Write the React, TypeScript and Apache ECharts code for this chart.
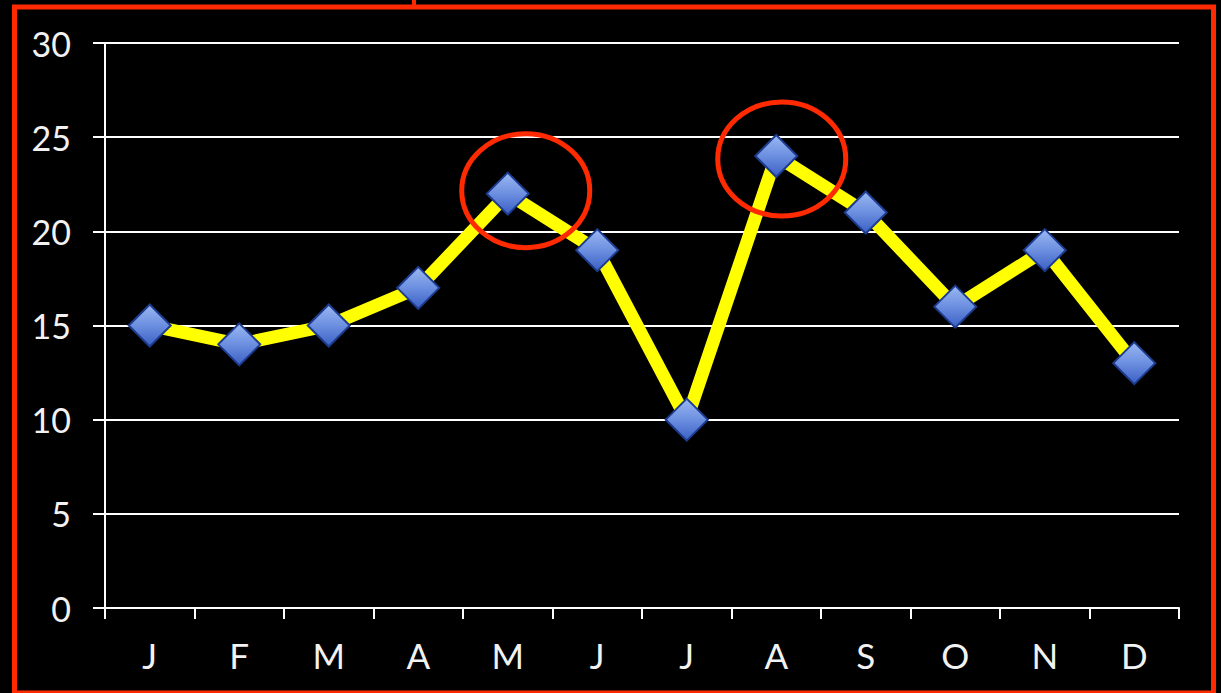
import React, { useEffect, useRef } from "react";
import * as echarts from "echarts";

const months = ["J", "F", "M", "A", "M", "J", "J", "A", "S", "O", "N", "D"];
const values = [15, 14, 15, 17, 22, 19, 10, 24, 21, 16, 19, 13];
const highlighted = [4, 7];
const highlightOffsets = [[18, -3], [5.5, 3]];

export default function App() {
  const ref = useRef<HTMLDivElement>(null);
  useEffect(() => {
    document.body.style.margin = "0";
    document.body.style.background = "#000";
    const chart = echarts.init(ref.current!, null, { renderer: "svg" });
    const option: any = {
      animation: false,
      backgroundColor: "#000",
      grid: { left: 105, right: 42, top: 43, bottom: 85 },
      xAxis: {
        type: "category",
        data: months,
        boundaryGap: true,
        axisLine: { lineStyle: { color: "#ffffff", width: 2 } },
        axisTick: { show: true, length: 11, lineStyle: { color: "#ffffff", width: 2 } },
        axisLabel: { color: "#f2f2f2", fontSize: 35, fontFamily: "Lato", margin: 29 },
        splitLine: { show: false },
      },
      yAxis: {
        type: "value",
        min: 0,
        max: 30,
        interval: 5,
        axisLine: { show: true, lineStyle: { color: "#ffffff", width: 2 } },
        axisTick: { show: true, length: 12, lineStyle: { color: "#ffffff", width: 2 } },
        axisLabel: { color: "#f2f2f2", fontSize: 34, fontFamily: "Lato", margin: 34 },
        splitLine: { show: true, lineStyle: { color: "#ffffff", width: 2 } },
      },
      series: [
        {
          type: "line",
          data: values,
          lineStyle: { color: "#ffff00", width: 13 },
          symbol: "diamond",
          symbolSize: 42,
          showSymbol: true,
          itemStyle: {
            color: new echarts.graphic.LinearGradient(0, 0, 0, 1, [
              { offset: 0, color: "#9bb8f2" },
              { offset: 0.5, color: "#6c8fe0" },
              { offset: 1, color: "#3a5fc4" },
            ]),
            borderColor: "#1d3c8f",
            borderWidth: 2,
          },
          z: 3,
        },
      ],
    };
    chart.setOption(option);
    const ellipses = highlighted.map((idx, i) => {
      const p = chart.convertToPixel({ seriesIndex: 0 }, [idx, values[idx]]) as number[];
      return {
        type: "ellipse",
        shape: { cx: p[0] + highlightOffsets[i][0], cy: p[1] + highlightOffsets[i][1], rx: 64, ry: 57 },
        style: { fill: "none", stroke: "#ff2a00", lineWidth: 5 },
        z: 100,
      };
    });
    chart.setOption({
      graphic: [
        {
          type: "rect",
          shape: { x: 14.5, y: 7, width: 1199, height: 686 },
          style: { fill: "none", stroke: "#ff2a00", lineWidth: 5 },
          z: 100,
        },
        {
          type: "line",
          shape: { x1: 414, y1: 0, x2: 414, y2: 7 },
          style: { stroke: "#ff2a00", lineWidth: 4 },
          z: 100,
        },
        ...ellipses,
      ],
    });
    return () => chart.dispose();
  }, []);
  return (
    <div
      ref={ref}
      style={{ position: "fixed", left: 0, top: 0, width: 1221, height: 693, background: "#000" }}
    />
  );
}
